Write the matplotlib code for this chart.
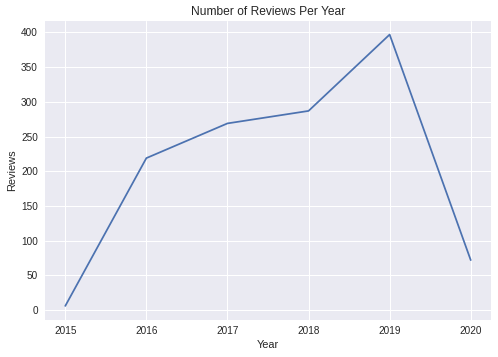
import matplotlib
matplotlib.use('Agg')
import matplotlib.pyplot as plt

# Data
years = [2015, 2016, 2017, 2018, 2019, 2020]
reviews = [6, 219, 269, 287, 397, 72]

plt.style.use('seaborn-v0_8')
plt.rcParams['font.family'] = ['Liberation Sans', 'DejaVu Sans']

fig = plt.figure(figsize=(498 / 72, 357 / 72), dpi=72)
ax = fig.add_axes([45 / 498, 1 - 319.5 / 357, (491 - 45) / 498, (319.5 - 21) / 357])

ax.plot(years, reviews)
ax.set_title('Number of Reviews Per Year')
ax.set_xlabel('Year')
ax.set_ylabel('Reviews')

fig.savefig('out.png', dpi=72)
